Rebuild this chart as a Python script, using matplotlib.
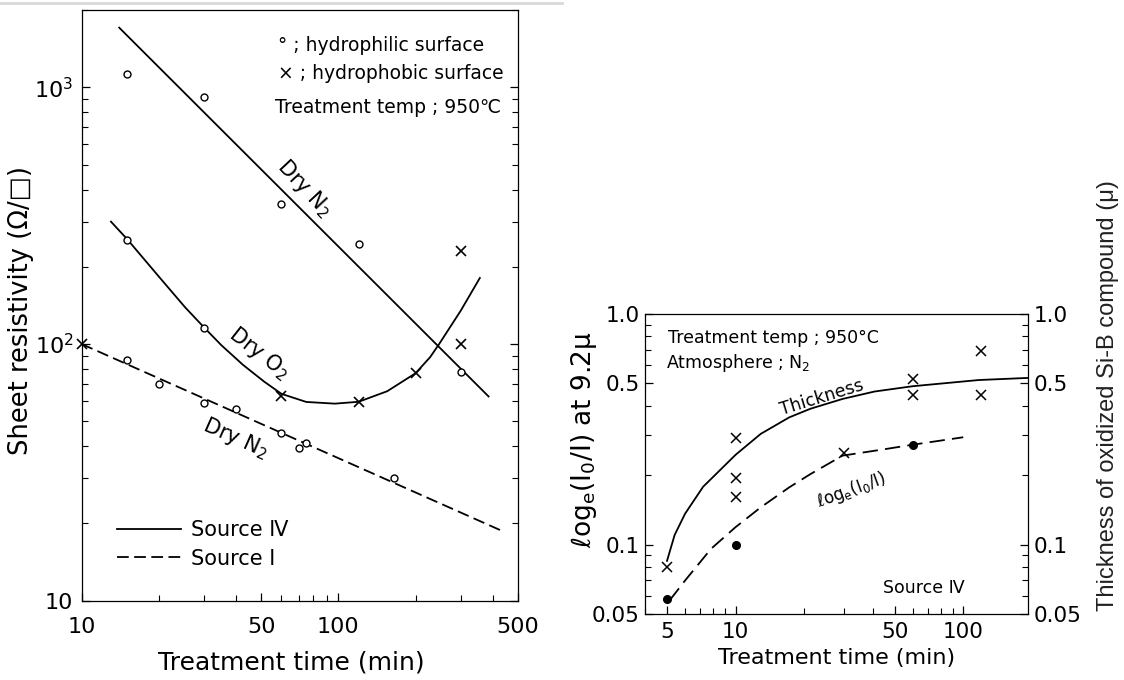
import matplotlib
matplotlib.use("Agg")
import matplotlib.pyplot as plt
from matplotlib.lines import Line2D
from matplotlib.ticker import FixedLocator, FixedFormatter, LogLocator, NullFormatter

plt.rcParams["font.family"] = ["DejaVu Sans"]
plt.rcParams["mathtext.default"] = "regular"

# ---------------- left panel: sheet resistivity vs treatment time ----------------
# Source IV, dry N2 (straight trend line + hydrophilic / hydrophobic points)
n2_iv_line_t = [14, 385]
n2_iv_line_r = [1710, 62.5]
n2_iv_phil_t = [15, 30, 60, 120, 300]
n2_iv_phil_r = [1130, 920, 350, 245, 78]
n2_iv_phob_t = [300]
n2_iv_phob_r = [230]

# Source IV, dry O2 (curve + points)
o2_curve_t = [13, 15, 20, 25.3, 30, 35, 42.5, 51.5, 60, 75, 97, 120, 155, 200, 228, 247, 300, 356]
o2_curve_r = [300, 257, 183, 139, 116, 99, 83, 71.3, 64, 59.5, 58.6, 59.6, 65.5, 77, 89, 100, 135, 181]
o2_phil_t = [15, 30]
o2_phil_r = [255, 116]
o2_phob_t = [60, 120, 200, 300]
o2_phob_r = [63, 59.5, 77, 100]

# Source I, dry N2 (dashed trend line + points)
n2_i_line_t = [10, 440]
n2_i_line_r = [100, 18.6]
n2_i_phil_t = [15, 20, 30, 40, 60, 70, 75, 165]
n2_i_phil_r = [87, 70, 59, 55.7, 45, 39.4, 41.3, 30.1]
n2_i_phob_t = [10]
n2_i_phob_r = [100]

left_xticks = [10, 50, 100, 500]
left_xticklabels = ["10", "50", "100", "500"]
left_yticks = [10, 100, 1000]
left_yticklabels = ["10", "10$^2$", "10$^3$"]

# ---------------- right panel: absorption / oxide thickness ----------------
thick_pts_t = [5, 10, 10, 10, 30, 60, 60, 120, 120]
thick_pts_v = [0.08, 0.29, 0.195, 0.16, 0.25, 0.52, 0.445, 0.69, 0.445]
thick_curve_t = [5.0, 5.4, 6.0, 7.2, 10, 12.9, 17.2, 21.3, 29.5, 40.8, 60, 117, 192]
thick_curve_v = [0.085, 0.110, 0.136, 0.178, 0.245, 0.302, 0.356, 0.388, 0.428, 0.461, 0.486, 0.517, 0.528]

absorb_pts_t = [5, 10, 60]
absorb_pts_v = [0.058, 0.1, 0.27]
absorb_curve_t = [5.13, 6.0, 7.8, 10, 12.9, 17.2, 21.3, 29.5, 43.9, 60, 100]
absorb_curve_v = [0.0572, 0.0698, 0.0958, 0.119, 0.145, 0.177, 0.202, 0.243, 0.258, 0.271, 0.292]

right_xticks = [5, 10, 50, 100]
right_xticklabels = ["5", "10", "50", "100"]
right_yticks = [0.05, 0.1, 0.5, 1.0]
right_yticklabels = ["0.05", "0.1", "0.5", "1.0"]

LW = 1.3
fig = plt.figure(figsize=(11.24, 6.8), dpi=100)

# faint page edge along the top of the left figure
fig.add_artist(Line2D([0.0, 0.5], [0.995, 0.995], transform=fig.transFigure,
                      color="#d8d8d8", lw=2))

axL = fig.add_axes([0.0727, 0.1166, 0.3879, 0.8684])
axR = fig.add_axes([0.5738, 0.0971, 0.3406, 0.4412])

for ax in (axL, axR):
    ax.set_xscale("log")
    ax.set_yscale("log")
    for sp in ax.spines.values():
        sp.set_linewidth(0.9)

# ---- left panel drawing
axL.set_xlim(10, 500)
axL.set_ylim(10, 2000)

axL.plot(n2_iv_line_t, n2_iv_line_r, color="black", lw=LW)
axL.plot(o2_curve_t, o2_curve_r, color="black", lw=LW)
axL.plot(n2_i_line_t, n2_i_line_r, color="black", lw=LW, dashes=(6.5, 3.0))

circ = dict(ls="none", marker="o", ms=5, mfc="white", mec="black", mew=1.0, zorder=3)
cross = dict(ls="none", marker="x", ms=7, mec="black", mew=1.2, zorder=3, clip_on=False)
axL.plot(n2_iv_phil_t, n2_iv_phil_r, **circ)
axL.plot(n2_iv_phob_t, n2_iv_phob_r, **cross)
axL.plot(o2_phil_t, o2_phil_r, **circ)
axL.plot(o2_phob_t, o2_phob_r, **cross)
axL.plot(n2_i_phil_t, n2_i_phil_r, **circ)
axL.plot(n2_i_phob_t, n2_i_phob_r, **cross)

axL.text(73.5, 405, "Dry N$_2$", rotation=-47, ha="center", va="center", fontsize=15)
axL.text(49, 92, "Dry O$_2$", rotation=-38, ha="center", va="center", fontsize=15)
axL.text(39.8, 43, "Dry N$_2$", rotation=-24, ha="center", va="center", fontsize=15)

axL.text(0.450, 0.941, "° ; hydrophilic surface", transform=axL.transAxes,
         ha="left", va="center", fontsize=13.5)
axL.text(0.450, 0.893, "× ; hydrophobic surface", transform=axL.transAxes,
         ha="left", va="center", fontsize=13.5)
axL.text(0.443, 0.836, "Treatment temp ; 950℃", transform=axL.transAxes,
         ha="left", va="center", fontsize=13.5)

legend_handles = [Line2D([], [], color="black", lw=LW),
                  Line2D([], [], color="black", lw=LW, dashes=(6.5, 3.0))]
axL.legend(legend_handles, ["Source Ⅳ", "Source Ⅰ"], loc="upper left",
           bbox_to_anchor=(0.08, 0.136), frameon=False, fontsize=15,
           handlelength=3.1, handletextpad=0.45, labelspacing=0.4,
           borderpad=0, borderaxespad=0)

axL.xaxis.set_major_locator(FixedLocator(left_xticks))
axL.xaxis.set_major_formatter(FixedFormatter(left_xticklabels))
axL.yaxis.set_major_locator(FixedLocator(left_yticks))
axL.yaxis.set_major_formatter(FixedFormatter(left_yticklabels))
for axis in (axL.xaxis, axL.yaxis):
    axis.set_minor_locator(LogLocator(base=10, subs=range(2, 10), numticks=20))
    axis.set_minor_formatter(NullFormatter())
axL.tick_params(which="both", direction="in", top=False, right=True, labelsize=16)
axL.tick_params(which="major", length=6, width=0.9)
axL.tick_params(which="minor", length=4, width=0.8)
axL.tick_params(axis="x", pad=12)
axL.tick_params(axis="y", pad=6)

fig.text(0.259, 0.026, "Treatment time (min)", ha="center", va="center", fontsize=18)
fig.text(0.019, 0.544, "Sheet resistivity (Ω/□)", ha="center", va="center",
         rotation=90, fontsize=18.5)

# ---- right panel drawing
axR.set_xlim(4.0, 192)
axR.set_ylim(0.05, 1.0)

axR.plot(thick_curve_t, thick_curve_v, color="black", lw=LW)
axR.plot(absorb_curve_t, absorb_curve_v, color="black", lw=LW, dashes=(8.5, 4.0))
axR.plot(thick_pts_t, thick_pts_v, ls="none", marker="x", ms=7, mec="black", mew=1.1, zorder=3)
axR.plot(absorb_pts_t, absorb_pts_v, ls="none", marker="o", ms=5.5, mfc="black",
         mec="black", zorder=3)

axR.text(0.06, 0.92, "Treatment temp ; 950°C", transform=axR.transAxes,
         ha="left", va="center", fontsize=12.5)
axR.text(0.055, 0.837, "Atmosphere ; N$_2$", transform=axR.transAxes,
         ha="left", va="center", fontsize=12.5)
axR.text(23.9, 0.432, "Thickness", rotation=17, ha="center", va="center", fontsize=12.5)
axR.text(32.3, 0.1725, "ℓog$_e$(I$_0$/I)", rotation=20, ha="center", va="center", fontsize=12)
axR.text(0.728, 0.087, "Source Ⅳ", transform=axR.transAxes,
         ha="center", va="center", fontsize=12.5)

axR.xaxis.set_major_locator(FixedLocator(right_xticks))
axR.xaxis.set_major_formatter(FixedFormatter(right_xticklabels))
axR.yaxis.set_major_locator(FixedLocator(right_yticks))
axR.yaxis.set_major_formatter(FixedFormatter(right_yticklabels))
for axis in (axR.xaxis, axR.yaxis):
    axis.set_minor_locator(LogLocator(base=10, subs=range(2, 10), numticks=20))
    axis.set_minor_formatter(NullFormatter())
axR.tick_params(which="both", direction="in", top=False, right=True,
                labelright=True, labelsize=15.5)
axR.tick_params(which="major", length=6, width=0.9)
axR.tick_params(which="minor", length=4, width=0.8)
axR.tick_params(axis="x", pad=6)
axR.tick_params(axis="y", pad=4)

fig.text(0.7447, 0.033, "Treatment time (min)", ha="center", va="center", fontsize=16)
fig.text(0.5196, 0.353, "ℓog$_e$(I$_0$/I) at 9.2μ", ha="center", va="center",
         rotation=90, fontsize=19)
fig.text(0.9858, 0.419, "Thickness of oxidized Si-B compound (μ)", ha="center",
         va="center", rotation=90, fontsize=17, family=["Liberation Sans"], color="#222222")

fig.savefig("out.png", dpi=100)
